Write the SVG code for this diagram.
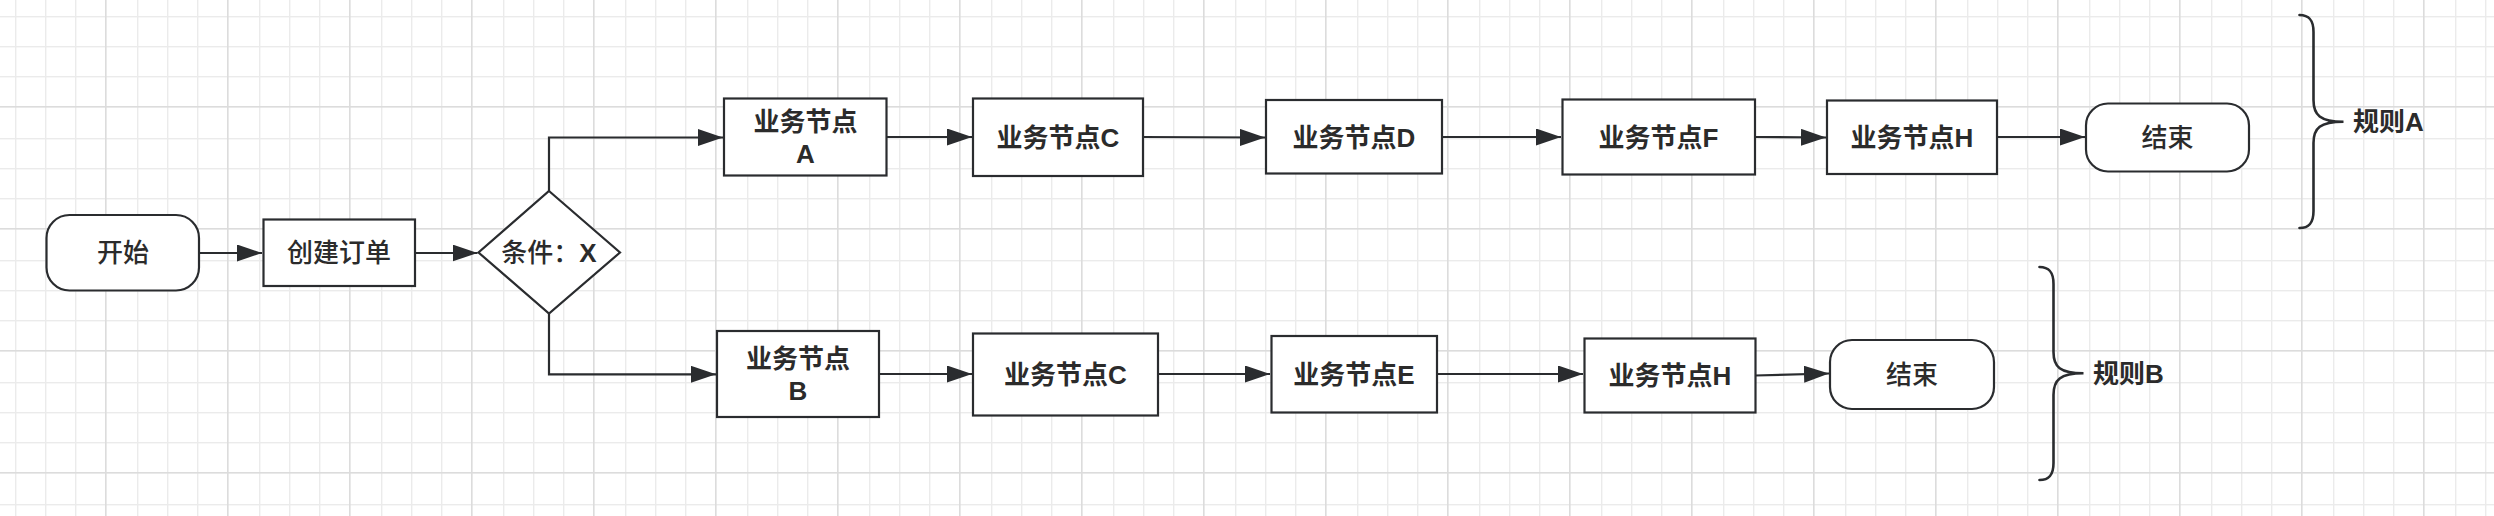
<svg xmlns="http://www.w3.org/2000/svg" width="2494" height="516" viewBox="0 0 2494 516">
  <style>
    .shape { fill: #ffffff; stroke: #2a2c2f; stroke-width: 2.2; }
    .conn { fill: none; stroke: #2a2c2f; stroke-width: 2.2; }
    .brace { fill: none; stroke: #2a2c2f; stroke-width: 2.6; stroke-linecap: round; }
    text { font-family: 'Liberation Sans', 'Noto Sans CJK SC', sans-serif; font-size: 26px; font-weight: 500; fill: #2b2b2b; text-anchor: middle; dominant-baseline: central; }
    .b { font-weight: bold; }
    .lbl { text-anchor: start; font-weight: bold; }
  </style>
  <defs>
    <pattern id="grid" patternUnits="userSpaceOnUse" x="-17" y="-16" width="122" height="122">
      <rect x="0" y="0" width="122" height="122" fill="#ffffff"/>
      <rect x="32" y="0" width="1.4" height="122" fill="#ebebeb"/>
      <rect x="62" y="0" width="1.4" height="122" fill="#ebebeb"/>
      <rect x="92" y="0" width="1.4" height="122" fill="#ebebeb"/>
      <rect x="0" y="32" width="122" height="1.4" fill="#ebebeb"/>
      <rect x="0" y="62" width="122" height="1.4" fill="#ebebeb"/>
      <rect x="0" y="92" width="122" height="1.4" fill="#ebebeb"/>
      <rect x="0" y="0" width="1.6" height="122" fill="#dcdcdc"/>
      <rect x="0" y="0" width="122" height="1.6" fill="#dcdcdc"/>
    </pattern>
    <marker id="arrow" markerUnits="userSpaceOnUse" markerWidth="25" markerHeight="17" refX="25" refY="8.5" orient="auto">
      <path d="M0,0 L25,8.5 L0,17 Z" fill="#2a2c2f"/>
    </marker>
  </defs>

  <rect x="0" y="0" width="2494" height="516" fill="url(#grid)"/>

  <g id="connectors">
    <path class="conn" d="M199,253 L262,253" marker-end="url(#arrow)"/>
    <path class="conn" d="M415,253 L477.5,253" marker-end="url(#arrow)"/>
    <path class="conn" d="M549,191 L549,137.5 L723,137.5" marker-end="url(#arrow)"/>
    <path class="conn" d="M549,313 L549,374.3 L716,374.3" marker-end="url(#arrow)"/>
    <path class="conn" d="M887,137 L972,137" marker-end="url(#arrow)"/>
    <path class="conn" d="M1143,137 L1265,137.5" marker-end="url(#arrow)"/>
    <path class="conn" d="M1442,137 L1561,137" marker-end="url(#arrow)"/>
    <path class="conn" d="M1755,137 L1826,137.5" marker-end="url(#arrow)"/>
    <path class="conn" d="M1997,137 L2085,137" marker-end="url(#arrow)"/>
    <path class="conn" d="M879,374 L972,374" marker-end="url(#arrow)"/>
    <path class="conn" d="M1158,374 L1270,374" marker-end="url(#arrow)"/>
    <path class="conn" d="M1437,374 L1583,374" marker-end="url(#arrow)"/>
    <path class="conn" d="M1755,375.5 L1829,373.5" marker-end="url(#arrow)"/>
  </g>

  <g id="start">
    <rect class="shape" x="46.5" y="215" width="152.5" height="75.5" rx="23" ry="23"/>
    <text x="123" y="253">开始</text>
  </g>
  <g id="create-order">
    <rect class="shape" x="263.5" y="219.5" width="151.5" height="66.5"/>
    <text x="339" y="253">创建订单</text>
  </g>
  <g id="condition">
    <polygon class="shape" points="549,191 620,252.5 549,313.5 478.5,252.5"/>
    <text x="549" y="253">条件：<tspan class="b">X</tspan></text>
  </g>

  <g id="node-a">
    <rect class="shape" x="724" y="98.5" width="162.5" height="77"/>
    <text class="b" x="805.5" y="122">业务节点</text>
    <text class="b" x="805.5" y="154">A</text>
  </g>
  <g id="node-c-top">
    <rect class="shape" x="973" y="98.5" width="170" height="77.5"/>
    <text class="b" x="1058" y="137.5">业务节点C</text>
  </g>
  <g id="node-d">
    <rect class="shape" x="1266" y="100" width="176" height="73.5"/>
    <text class="b" x="1354" y="137.5">业务节点D</text>
  </g>
  <g id="node-f">
    <rect class="shape" x="1562.5" y="99.5" width="192.5" height="75"/>
    <text class="b" x="1658.5" y="137.5">业务节点F</text>
  </g>
  <g id="node-h-top">
    <rect class="shape" x="1827" y="100.5" width="170" height="73.5"/>
    <text class="b" x="1912" y="137.5">业务节点H</text>
  </g>
  <g id="end-a">
    <rect class="shape" x="2086" y="103.5" width="163" height="68" rx="22" ry="22"/>
    <text x="2167.5" y="137.5">结束</text>
  </g>

  <g id="node-b">
    <rect class="shape" x="717" y="331" width="162" height="86"/>
    <text class="b" x="798" y="359">业务节点</text>
    <text class="b" x="798" y="391">B</text>
  </g>
  <g id="node-c-bottom">
    <rect class="shape" x="973" y="333.5" width="185" height="82"/>
    <text class="b" x="1065.5" y="374.5">业务节点C</text>
  </g>
  <g id="node-e">
    <rect class="shape" x="1271.5" y="336" width="165.5" height="76.5"/>
    <text class="b" x="1354" y="374.5">业务节点E</text>
  </g>
  <g id="node-h-bottom">
    <rect class="shape" x="1584.5" y="338.5" width="171" height="74"/>
    <text class="b" x="1670" y="375.5">业务节点H</text>
  </g>
  <g id="end-b">
    <rect class="shape" x="1830" y="340" width="164" height="69" rx="22" ry="22"/>
    <text x="1912" y="375">结束</text>
  </g>

  <g id="rule-a">
    <path class="brace" d="M2299.5,15 C2309,15 2313.5,20 2313.5,32 L2313.5,100 C2313.5,115 2320,121.7 2343.5,121.7 C2320,121.7 2313.5,128 2313.5,143 L2313.5,211 C2313.5,223 2309,228 2299.5,228"/>
    <text class="lbl" x="2353" y="122">规则A</text>
  </g>
  <g id="rule-b">
    <path class="brace" d="M2039.5,267 C2049,267 2053.5,272 2053.5,284 L2053.5,352 C2053.5,367 2060,373.3 2083.5,373.3 C2060,373.3 2053.5,380 2053.5,395 L2053.5,463 C2053.5,475 2049,480 2039.5,480"/>
    <text class="lbl" x="2093" y="374">规则B</text>
  </g>
</svg>
